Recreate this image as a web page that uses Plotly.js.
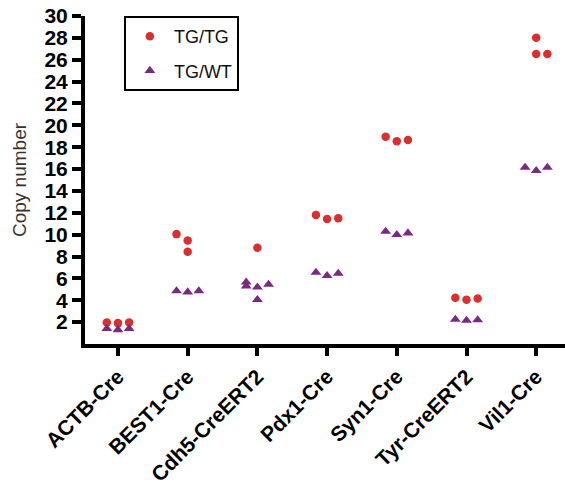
<!DOCTYPE html>
<html>
<head>
<meta charset="utf-8">
<script src="https://cdn.plot.ly/plotly-3.0.1.min.js"></script>
<style>html,body{margin:0;padding:0;background:#fff;}#chart{width:565px;height:488px;}</style>
</head>
<body>
<div id="chart"></div>
<script>
const categories = ['ACTB-Cre','BEST1-Cre','Cdh5-CreERT2','Pdx1-Cre','Syn1-Cre','Tyr-CreERT2','Vil1-Cre'];
const yTicks = [2,4,6,8,10,12,14,16,18,20,22,24,26,28,30];

// TG/TG series
const tgtgGroup  = ['ACTB-Cre','ACTB-Cre','ACTB-Cre','BEST1-Cre','BEST1-Cre','BEST1-Cre','Cdh5-CreERT2','Pdx1-Cre','Pdx1-Cre','Pdx1-Cre','Syn1-Cre','Syn1-Cre','Syn1-Cre','Tyr-CreERT2','Tyr-CreERT2','Tyr-CreERT2','Vil1-Cre','Vil1-Cre','Vil1-Cre'];
const tgtgValues = [1.97,1.91,1.97, 10.05,9.46,8.43, 8.8, 11.81,11.44,11.5, 18.95,18.55,18.65, 4.22,4.04,4.16, 28.02,26.53,26.53];
const tgtgSpread = [-1,0,1, -1,0,0, 0, -1,0,1, -1,0,1, -1,0,1, 0,0,1];

// TG/WT series
const tgwtGroup  = ['ACTB-Cre','ACTB-Cre','ACTB-Cre','BEST1-Cre','BEST1-Cre','BEST1-Cre','Cdh5-CreERT2','Cdh5-CreERT2','Cdh5-CreERT2','Cdh5-CreERT2','Cdh5-CreERT2','Pdx1-Cre','Pdx1-Cre','Pdx1-Cre','Syn1-Cre','Syn1-Cre','Syn1-Cre','Tyr-CreERT2','Tyr-CreERT2','Tyr-CreERT2','Vil1-Cre','Vil1-Cre','Vil1-Cre'];
const tgwtValues = [1.4,1.3,1.4, 4.85,4.75,4.85, 5.65,5.3,5.2,4.05,5.45, 6.55,6.25,6.45, 10.3,10.0,10.15, 2.25,2.15,2.2, 16.15,15.85,16.15];
const tgwtSpread = [-1,0,1, -1,0,1, -1,-1,0,0,1, -1,0,1, -1,0,1, -1,0,1, -1,0,1];

const SPREAD = 0.16;
function xs(groups, spread){ return groups.map((g,i)=>categories.indexOf(g) + spread[i]*SPREAD); }

const traces = [
  {type:'scatter', mode:'markers', name:'TG/TG', legendgroup:'a',
   x: xs(tgtgGroup, tgtgSpread), y: tgtgValues,
   marker:{symbol:'circle', size:8.5, color:'#d7302f'}},
  {type:'scatter', mode:'markers', name:'TG/WT', legendgroup:'b',
   x: xs(tgwtGroup, tgwtSpread), y: tgwtValues,
   marker:{symbol:'triangle-up', size:9.5, color:'#7a2a82'}}
];

const layout = {
  width:565, height:488,
  margin:{l:85, r:0, t:16, b:144},
  paper_bgcolor:'#fff', plot_bgcolor:'#fff',
  font:{family:'Liberation Sans, Arial, sans-serif', color:'#000'},
  showlegend:true,
  legend:{x:0.081, y:1, xanchor:'left', yanchor:'top', bgcolor:'#fff',
          bordercolor:'#000', borderwidth:2, traceorder:'grouped', tracegroupgap:8,
          itemwidth:38, font:{size:18, color:'#111'}},
  xaxis:{range:[-0.473, 6.413], tickvals: categories.map((c,i)=>i), ticktext: categories,
         tickangle:-45, showgrid:false, zeroline:false, showline:true, linecolor:'#000', linewidth:4,
         ticks:'outside', ticklen:8, tickwidth:4, tickcolor:'#000', ticklabelstandoff:0,
         tickfont:{size:21, weight:'bold', color:'#000'}},
  yaxis:{range:[0,30], tickvals:yTicks, showgrid:false, zeroline:false, showline:true,
         linecolor:'#000', linewidth:4, ticks:'outside', ticklen:9, tickwidth:4, tickcolor:'#000',
         tickfont:{size:21, weight:'bold', color:'#000'},
         title:{text:'Copy number', font:{size:19, color:'#333'}, standoff:14}}
};

Plotly.newPlot('chart', traces, layout, {displayModeBar:false, staticPlot:true});
</script>
</body>
</html>
